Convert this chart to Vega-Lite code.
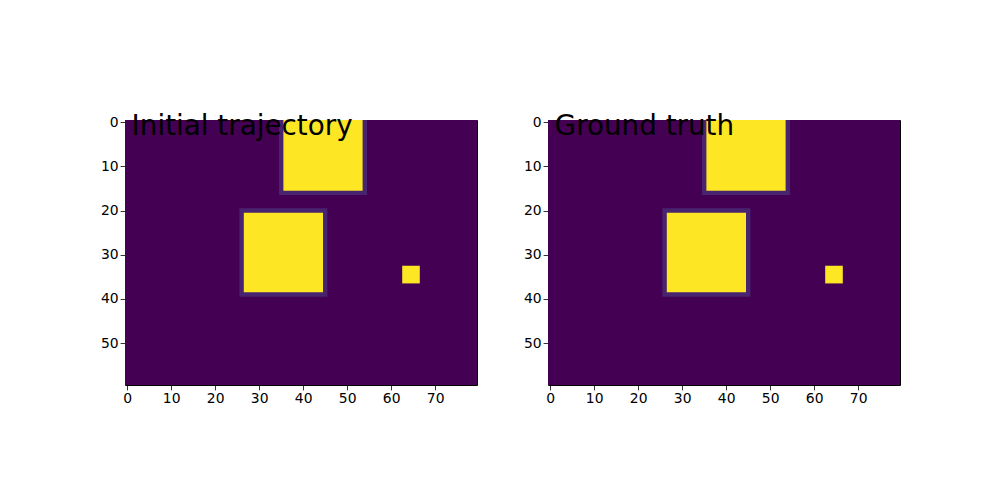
{
  "$schema": "https://vega.github.io/schema/vega-lite/v6.json",
  "autosize": {"type": "pad"},
  "padding": {"left": 99, "top": 112, "right": 5, "bottom": 5},
  "background": "white",
  "bounds": "flush",
  "spacing": 71,
  "config": {
    "view": {"stroke": "black", "strokeWidth": 1},
    "font": "DejaVu Sans",
    "axis": {
      "grid": false,
      "domain": false,
      "tickColor": "black",
      "tickSize": 4.9,
      "tickWidth": 0.8,
      "labelColor": "black",
      "labelFont": "DejaVu Sans",
      "labelFontSize": 13.9,
      "labelPadding": 2,
      "title": null
    }
  },
  "datasets": {
    "rects": [
      {"kind": "bg", "x1": -0.5, "x2": 79.5, "y1": -0.5, "y2": 59.5},
      {"kind": "border", "x1": 34.5, "x2": 54.5, "y1": -0.5, "y2": 16.5},
      {"kind": "fill", "x1": 35.5, "x2": 53.5, "y1": -0.5, "y2": 15.5},
      {"kind": "border", "x1": 25.5, "x2": 45.5, "y1": 19.5, "y2": 39.5},
      {"kind": "fill", "x1": 26.5, "x2": 44.5, "y1": 20.5, "y2": 38.5},
      {"kind": "fill", "x1": 62.5, "x2": 66.5, "y1": 32.5, "y2": 36.5}
    ]
  },
  "hconcat": [
    {
      "width": 352,
      "height": 265,
      "layer": [
        {
          "data": {"name": "rects"},
          "mark": {"type": "rect", "strokeWidth": 0},
          "encoding": {
            "x": {"field": "x1", "type": "quantitative", "scale": {"domain": [-0.5, 79.5], "nice": false, "zero": false}, "axis": {"values": [0, 10, 20, 30, 40, 50, 60, 70]}},
            "x2": {"field": "x2"},
            "y": {"field": "y1", "type": "quantitative", "scale": {"domain": [-0.5, 59.5], "nice": false, "zero": false, "reverse": true}, "axis": {"values": [0, 10, 20, 30, 40, 50]}},
            "y2": {"field": "y2"},
            "color": {"field": "kind", "type": "nominal", "scale": {"domain": ["bg", "border", "fill"], "range": ["#440154", "#48236f", "#fde725"]}, "legend": null}
          }
        },
        {
          "data": {"values": [{"label": "Initial trajectory", "tx": 1, "ty": 3}]},
          "mark": {"type": "text", "align": "left", "baseline": "alphabetic", "fontSize": 27.8, "font": "DejaVu Sans", "color": "black"},
          "encoding": {
            "x": {"field": "tx", "type": "quantitative"},
            "y": {"field": "ty", "type": "quantitative"},
            "text": {"field": "label"}
          }
        }
      ]
    },
    {
      "width": 352,
      "height": 265,
      "layer": [
        {
          "data": {"name": "rects"},
          "mark": {"type": "rect", "strokeWidth": 0},
          "encoding": {
            "x": {"field": "x1", "type": "quantitative", "scale": {"domain": [-0.5, 79.5], "nice": false, "zero": false}, "axis": {"values": [0, 10, 20, 30, 40, 50, 60, 70]}},
            "x2": {"field": "x2"},
            "y": {"field": "y1", "type": "quantitative", "scale": {"domain": [-0.5, 59.5], "nice": false, "zero": false, "reverse": true}, "axis": {"values": [0, 10, 20, 30, 40, 50]}},
            "y2": {"field": "y2"},
            "color": {"field": "kind", "type": "nominal", "scale": {"domain": ["bg", "border", "fill"], "range": ["#440154", "#48236f", "#fde725"]}, "legend": null}
          }
        },
        {
          "data": {"values": [{"label": "Ground truth", "tx": 1, "ty": 3}]},
          "mark": {"type": "text", "align": "left", "baseline": "alphabetic", "fontSize": 27.8, "font": "DejaVu Sans", "color": "black"},
          "encoding": {
            "x": {"field": "tx", "type": "quantitative"},
            "y": {"field": "ty", "type": "quantitative"},
            "text": {"field": "label"}
          }
        }
      ]
    }
  ]
}
